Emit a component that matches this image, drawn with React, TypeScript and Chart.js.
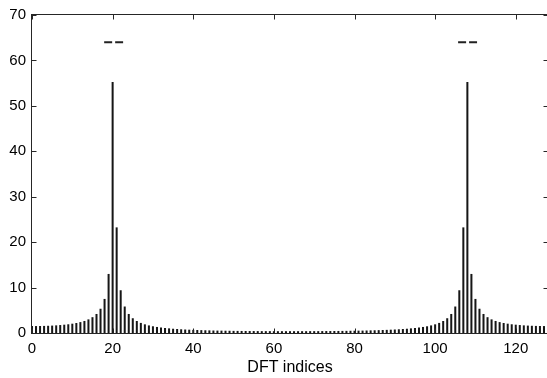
import React, { useEffect, useRef } from "react";
import { Chart, registerables } from "chart.js";

Chart.register(...registerables);

// |X[k]| for k = 0..127
const magnitudes: number[] = [
  1.53, 1.53, 1.54, 1.56, 1.59, 1.63, 1.68, 1.75, 1.83, 1.92,
  2.05, 2.2, 2.4, 2.65, 3.0, 3.48, 4.19, 5.34, 7.5, 13.0,
  55.25, 23.25, 9.41, 5.83, 4.19, 3.25, 2.64, 2.22, 1.91, 1.67,
  1.48, 1.33, 1.21, 1.1, 1.02, 0.94, 0.88, 0.82, 0.77, 0.73,
  0.69, 0.66, 0.63, 0.6, 0.58, 0.55, 0.53, 0.52, 0.5, 0.49,
  0.47, 0.46, 0.45, 0.44, 0.43, 0.43, 0.42, 0.41, 0.41, 0.41,
  0.4, 0.4, 0.4, 0.4, 0.4, 0.4, 0.4, 0.4, 0.4, 0.41,
  0.41, 0.41, 0.42, 0.43, 0.43, 0.44, 0.45, 0.46, 0.47, 0.49,
  0.5, 0.52, 0.53, 0.55, 0.58, 0.6, 0.63, 0.66, 0.69, 0.73,
  0.77, 0.82, 0.88, 0.94, 1.02, 1.1, 1.21, 1.33, 1.48, 1.67,
  1.91, 2.22, 2.64, 3.25, 4.19, 5.83, 9.41, 23.25, 55.25, 13.0,
  7.5, 5.34, 4.19, 3.48, 3.0, 2.65, 2.4, 2.2, 2.05, 1.92,
  1.83, 1.75, 1.68, 1.63, 1.59, 1.56, 1.54, 1.53,
];

const xTicks = [0, 20, 40, 60, 80, 100, 120];
const yTicks = [0, 10, 20, 30, 40, 50, 60, 70];
const xRange = [0, 128];
const yRange = [0, 70];
const markLevel = 64;
const leftMarkX = [17.9, 22.6];
const rightMarkX = [105.7, 110.4];
const xLabel = "DFT indices";

const FONT = "Arial, 'Liberation Sans', Helvetica, sans-serif";

const boxPlugin = {
  id: "boxTicks",
  afterDraw(chart: any) {
    const { ctx, chartArea: a, scales } = chart;
    const xs = scales.x;
    const ys = scales.y;
    const L = Math.round(a.left) - 0.5;
    const R = Math.round(a.right) + 0.5;
    const T = Math.round(a.top) - 0.5;
    const B = Math.round(a.bottom) + 0.5;
    ctx.save();
    ctx.strokeStyle = "#262626";
    ctx.lineWidth = 1;
    ctx.strokeRect(L, T, R - L, B - T);
    const tl = 5;
    ctx.beginPath();
    for (const v of xTicks) {
      const px = Math.round(xs.getPixelForValue(v)) + 0.5;
      ctx.moveTo(px, B);
      ctx.lineTo(px, B - tl);
      ctx.moveTo(px, T);
      ctx.lineTo(px, T + tl);
    }
    for (const v of yTicks) {
      const py = Math.round(ys.getPixelForValue(v)) + 0.5;
      ctx.moveTo(L, py);
      ctx.lineTo(L + tl, py);
      ctx.moveTo(R, py);
      ctx.lineTo(R - tl, py);
    }
    ctx.stroke();
    ctx.restore();
  },
};

export default function App() {
  const ref = useRef<HTMLCanvasElement | null>(null);

  useEffect(() => {
    if (!ref.current) return;
    const barData = magnitudes.map((v, i) => ({ x: i, y: v }));
    const chart = new Chart(ref.current, {
      type: "bar",
      data: {
        datasets: [
          {
            type: "bar",
            data: barData as any,
            backgroundColor: "#161616",
            borderWidth: 0,
            barPercentage: 0.5,
            categoryPercentage: 1,
          } as any,
          {
            type: "line",
            data: [
              { x: leftMarkX[0], y: markLevel },
              { x: leftMarkX[1], y: markLevel },
            ],
            borderColor: "#222",
            borderWidth: 2,
            borderDash: [8, 3],
            pointRadius: 0,
          } as any,
          {
            type: "line",
            data: [
              { x: rightMarkX[0], y: markLevel },
              { x: rightMarkX[1], y: markLevel },
            ],
            borderColor: "#222",
            borderWidth: 2,
            borderDash: [8, 3],
            pointRadius: 0,
          } as any,
        ],
      },
      options: {
        responsive: false,
        animation: false,
        layout: { padding: { top: 14, right: 4, left: 0, bottom: 0 } },
        plugins: { legend: { display: false }, tooltip: { enabled: false } },
        scales: {
          x: {
            type: "linear",
            min: xRange[0],
            max: xRange[1],
            offset: false,
            grid: { display: false, drawTicks: false },
            border: { display: false },
            afterBuildTicks: (s: any) => {
              s.ticks = xTicks.map((v) => ({ value: v }));
            },
            afterFit: (s: any) => {
              s.height = 45;
            },
            ticks: {
              autoSkip: false,
              maxRotation: 0,
              color: "#000",
              padding: 7,
              font: { family: FONT, size: 15 },
            },
            title: {
              display: true,
              text: xLabel,
              color: "#000",
              font: { family: FONT, size: 16 },
              padding: { top: 0, bottom: 1 },
            },
          },
          y: {
            type: "linear",
            min: yRange[0],
            max: yRange[1],
            grid: { display: false, drawTicks: false },
            border: { display: false },
            afterBuildTicks: (s: any) => {
              s.ticks = yTicks.map((v) => ({ value: v }));
            },
            afterFit: (s: any) => {
              s.width = 32;
            },
            ticks: {
              color: "#000",
              padding: 6,
              font: { family: FONT, size: 15 },
            },
          },
        },
      },
      plugins: [boxPlugin],
    });
    return () => chart.destroy();
  }, []);

  return (
    <div
      style={{
        position: "fixed",
        left: 0,
        top: 0,
        width: 547,
        height: 378,
        overflow: "hidden",
        background: "#fff",
      }}
    >
      <canvas ref={ref} width={552} height={378} style={{ display: "block" }} />
    </div>
  );
}
